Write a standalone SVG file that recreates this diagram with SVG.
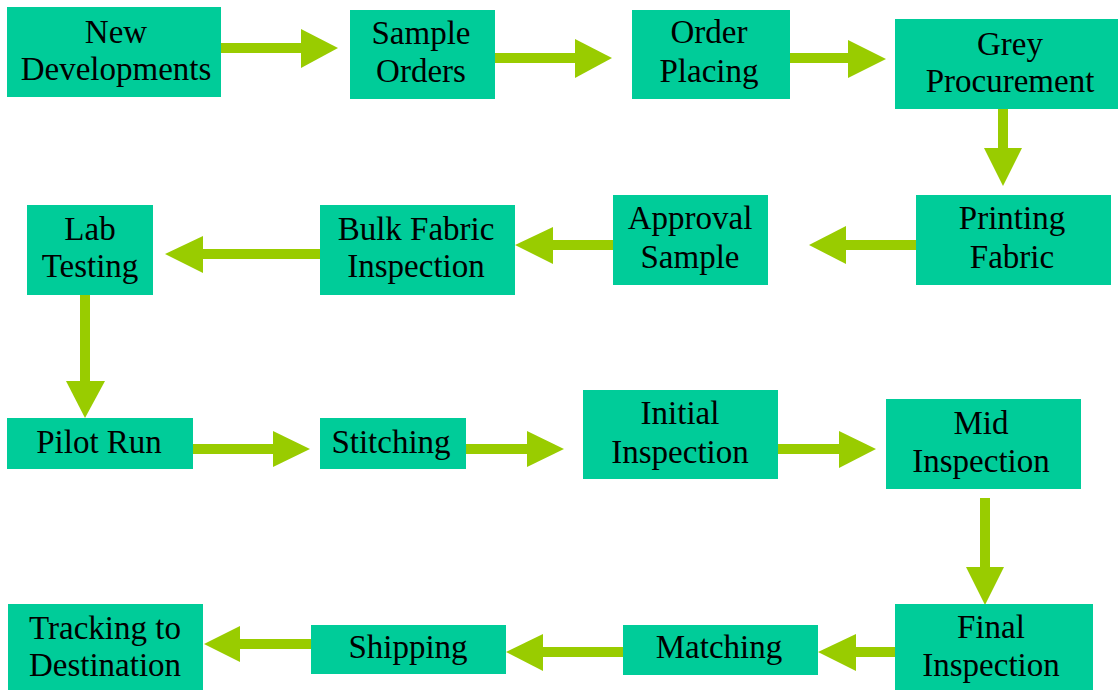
<svg xmlns="http://www.w3.org/2000/svg" width="1120" height="690" viewBox="0 0 1120 690">
<style>
.box{fill:#00CC99}
.t{font-family:"Liberation Serif","Times New Roman",serif;font-size:33px;fill:#000;text-anchor:middle}
.sh{stroke:#99CC00;stroke-width:10;fill:none}
.hd{fill:#99CC00}
</style>
<rect width="1120" height="690" fill="#fff"/>
<g id="connectors">
<line class="sh" x1="221" y1="48" x2="303" y2="48"/><polygon class="hd" points="301,29 338,48 301,68"/>
<line class="sh" x1="495" y1="58" x2="577" y2="58"/><polygon class="hd" points="575,39 612,58 575,78"/>
<line class="sh" x1="790" y1="58" x2="850" y2="58"/><polygon class="hd" points="848,40 886,59 848,78"/>
<line class="sh" x1="1003" y1="109" x2="1003" y2="150"/><polygon class="hd" points="984,148 1022,148 1003,186"/>
<line class="sh" x1="916" y1="245" x2="844" y2="245"/><polygon class="hd" points="846,226 809,245 846,264"/>
<line class="sh" x1="613" y1="245" x2="551" y2="245"/><polygon class="hd" points="553,227 515,245 553,264"/>
<line class="sh" x1="320" y1="254" x2="201" y2="254"/><polygon class="hd" points="203,236 165,254 203,273"/>
<line class="sh" x1="85" y1="292" x2="85" y2="383"/><polygon class="hd" points="66,381 105,381 85,418"/>
<line class="sh" x1="193" y1="449" x2="275" y2="449"/><polygon class="hd" points="273,431 310,449 273,467"/>
<line class="sh" x1="466" y1="449" x2="529" y2="449"/><polygon class="hd" points="527,431 564,449 527,467"/>
<line class="sh" x1="778" y1="449" x2="841" y2="449"/><polygon class="hd" points="839,431 876,449 839,468"/>
<line class="sh" x1="985" y1="498" x2="985" y2="569"/><polygon class="hd" points="966,567 1004,567 985,605"/>
<line class="sh" x1="895" y1="652" x2="854" y2="652"/><polygon class="hd" points="856,634 818,652 856,671"/>
<line class="sh" x1="623" y1="652" x2="541" y2="652"/><polygon class="hd" points="543,634 506,652 543,671"/>
<line class="sh" x1="311" y1="644" x2="238" y2="644"/><polygon class="hd" points="240,626 204,644 240,662"/>
</g>
<g id="n1"><rect class="box" x="7" y="7" width="214" height="90"/><text class="t" x="116" y="43">New</text><text class="t" x="116" y="80">Developments</text></g>
<g id="n2"><rect class="box" x="350" y="10" width="145" height="89"/><text class="t" x="421" y="44">Sample</text><text class="t" x="421" y="82">Orders</text></g>
<g id="n3"><rect class="box" x="632" y="10" width="158" height="89"/><text class="t" x="709" y="43">Order</text><text class="t" x="709" y="82">Placing</text></g>
<g id="n4"><rect class="box" x="895" y="19" width="223" height="90"/><text class="t" x="1010" y="55">Grey</text><text class="t" x="1010" y="92">Procurement</text></g>
<g id="n5"><rect class="box" x="916" y="195" width="195" height="90"/><text class="t" x="1012" y="229">Printing</text><text class="t" x="1012" y="268">Fabric</text></g>
<g id="n6"><rect class="box" x="613" y="195" width="155" height="90"/><text class="t" x="690" y="229">Approval</text><text class="t" x="690" y="268">Sample</text></g>
<g id="n7"><rect class="box" x="320" y="205" width="195" height="90"/><text class="t" x="416" y="240">Bulk Fabric</text><text class="t" x="416" y="277">Inspection</text></g>
<g id="n8"><rect class="box" x="27" y="205" width="126" height="90"/><text class="t" x="90" y="240">Lab</text><text class="t" x="90" y="277">Testing</text></g>
<g id="n9"><rect class="box" x="7" y="418" width="186" height="51"/><text class="t" x="99" y="453">Pilot Run</text></g>
<g id="n10"><rect class="box" x="320" y="418" width="146" height="51"/><text class="t" x="391" y="453">Stitching</text></g>
<g id="n11"><rect class="box" x="583" y="390" width="195" height="89"/><text class="t" x="680" y="424">Initial</text><text class="t" x="680" y="463">Inspection</text></g>
<g id="n12"><rect class="box" x="886" y="399" width="195" height="90"/><text class="t" x="981" y="434">Mid</text><text class="t" x="981" y="472">Inspection</text></g>
<g id="n13"><rect class="box" x="895" y="604" width="198" height="86"/><text class="t" x="991" y="638">Final</text><text class="t" x="991" y="676">Inspection</text></g>
<g id="n14"><rect class="box" x="623" y="625" width="195" height="50"/><text class="t" x="719" y="658">Matching</text></g>
<g id="n15"><rect class="box" x="311" y="625" width="195" height="49"/><text class="t" x="408" y="658">Shipping</text></g>
<g id="n16"><rect class="box" x="8" y="604" width="195" height="86"/><text class="t" x="105" y="639">Tracking to</text><text class="t" x="105" y="676">Destination</text></g>
</svg>
